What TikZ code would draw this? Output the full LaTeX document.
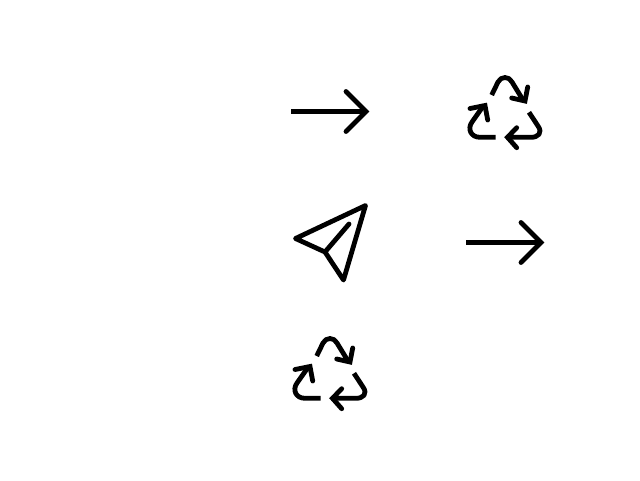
\documentclass[tikz,border=0pt]{standalone}
\tikzset{
  glyph/.style={draw=black,line width=4.8pt,line cap=round,line join=round},
  headglyph/.style={glyph,line join=miter},
  arrowpic/.pic={
    \draw[glyph,line cap=butt] (0,0) -- (75,0);
    \draw[headglyph] (55,-20) -- (75,0) -- (55,20);
  },
  recyclepic/.pic={
    \draw[glyph,line cap=butt] (491.7,95) -- (498,82) .. controls (501,76) and (509,76) .. (512,82) -- (523,100);
    \draw[headglyph] (527.7,87) -- (525,101) -- (511.7,98);
    \draw[glyph,line cap=butt] (495.7,137.3) -- (480,137.3) .. controls (471,137.3) and (467,129) .. (472,122) -- (484,105);
    \draw[headglyph] (470,108.5) -- (485,105.5) -- (487.7,120);
    \draw[glyph,line cap=butt] (529,112.3) -- (538,126) .. controls (543,133) and (538,137.3) .. (531,137.3) -- (506.7,137.3);
    \draw[headglyph] (516.7,127.7) -- (507.5,137.3) -- (516.7,147.7);
  }
}
\begin{document}
\begin{tikzpicture}[x=1pt,y=-1pt]
\useasboundingbox (0,0) rectangle (640,480);
\fill[white] (0,0) rectangle (640,480);
\pic at (291,111.5) {arrowpic};
\pic at (466,242.5) {arrowpic};
\pic at (0,0) {recyclepic};
\pic at (-175,261) {recyclepic};
\draw[glyph] (365.5,205.5) -- (295.5,238.5) -- (325,252) -- (343.5,280) -- cycle;
\draw[glyph] (325,252) -- (349,224);
\end{tikzpicture}
\end{document}
